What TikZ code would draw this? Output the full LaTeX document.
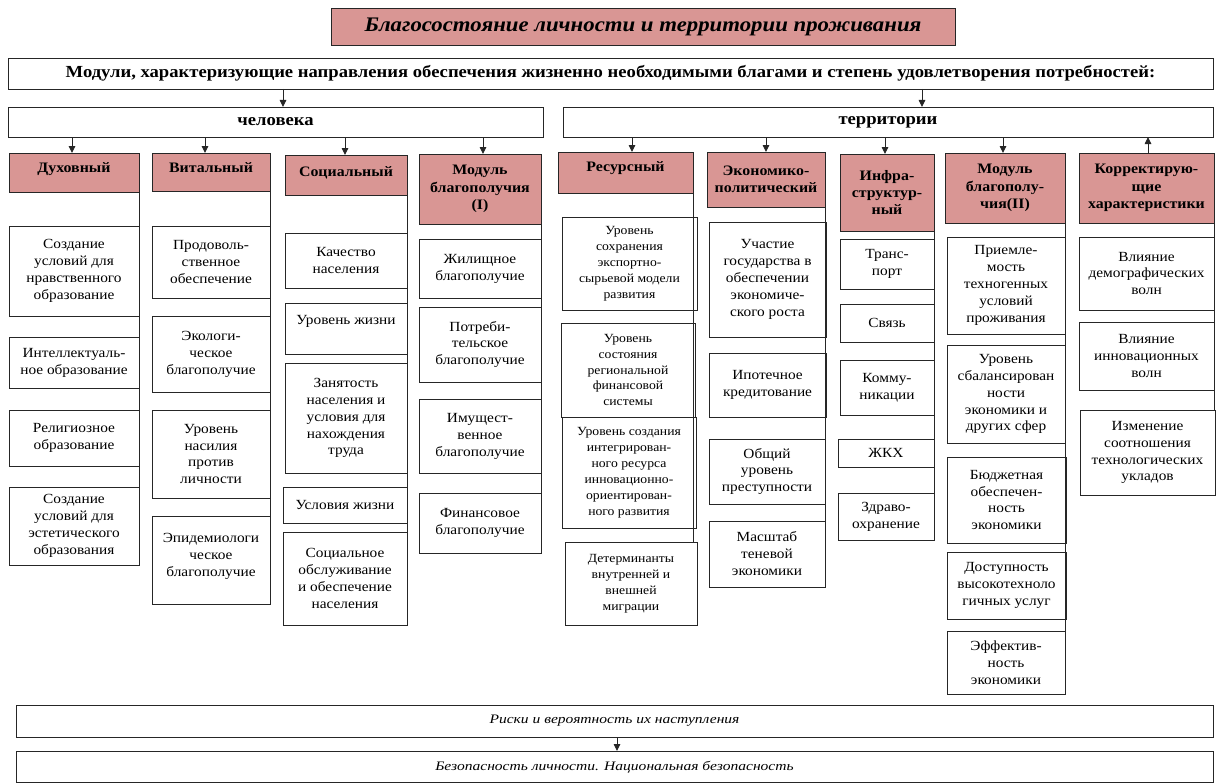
\documentclass[tikz,border=0pt]{standalone}
\usepackage{fontspec}
\setmainfont{Liberation Serif}[FakeStretch=1.1]
\newfontfamily\widefont{Liberation Serif}[FakeStretch=1.2]
\usetikzlibrary{arrows.meta}

\definecolor{rosefill}{HTML}{D99694}
\definecolor{edge}{HTML}{262626}

% box given by its corners (x1,y1)-(x2,y2), in pixel-like units
\newcommand\bx[7]{%
  \node[#6, minimum width={(#4-#2)*1bp}, minimum height={(#5-#3)*1bp}]
    (#1) at ({(#2+#4)/2},{(#3+#5)/2}) {#7};}

\tikzset{
  base/.style={draw=edge, line width=0.9bp, inner sep=0pt, outer sep=0pt, align=center},
  titlebox/.style={base, fill=rosefill, font=\fontsize{20.8}{25}\selectfont\bfseries\itshape},
  barbox/.style={base, fill=white, font=\fontsize{17}{20}\selectfont\bfseries},
  headbox/.style={base, fill=rosefill, font=\fontsize{14.5}{17.5}\selectfont\bfseries},
  itembox/.style={base, fill=white, font=\fontsize{14}{17}\selectfont},
  smallbox/.style={base, fill=white, font=\fontsize{12.5}{16}\selectfont},
  footbox/.style={base, fill=white, font=\widefont\fontsize{13}{15}\selectfont\itshape},
  arr/.style={draw=edge, line width=0.9bp, -{Triangle[length=7bp,width=6.5bp]}},
  rail/.style={draw=edge, line width=0.9bp}
}

\begin{document}
\begin{tikzpicture}[x=1bp, y=-1bp]
\useasboundingbox (0,0) rectangle (1217,783);
\fill[white] (0,0) rectangle (1217,783);

% title and top bars
\bx{title}{331}{8}{955}{45}{titlebox}{Благосостояние личности и территории проживания}
\bx{mods}{8}{58}{1213}{89}{barbox}{Модули, характеризующие направления обеспечения жизненно необходимыми благами и степень удовлетворения потребностей:}
\bx{pers}{8}{107}{543}{137}{barbox}{человека}
\bx{terr}{563}{107}{1213}{137}{barbox}{территории}

% module headers
\bx{h1}{9}{153}{139}{192}{headbox}{Духовный\\[-7.5bp]\mbox{}}
\bx{h2}{152}{153}{270}{191}{headbox}{Витальный\\[-7.5bp]\mbox{}}
\bx{h3}{285}{155}{407}{195}{headbox}{Социальный\\[-9.5bp]\mbox{}}
\bx{h4}{419}{154}{541}{224}{headbox}{Модуль\\благополучия\\(I)}
\bx{h5}{558}{152}{693}{193}{headbox}{Ресурсный\\[-5.5bp]\mbox{}}
\bx{h6}{707}{152}{825}{207}{headbox}{Экономико-\\политический}
\bx{h7}{840}{154}{934}{231}{headbox}{Инфра-\\структур-\\ный}
\bx{h8}{945}{153}{1065}{223}{headbox}{Модуль\\благополу-\\чия(II)}
\bx{h9}{1079}{153}{1214}{223}{headbox}{Корректирую-\\щие\\характеристики}

% Духовный
\bx{c11}{9}{226}{139}{316}{itembox}{Создание\\условий для\\нравственного\\образование}
\bx{c12}{9}{337}{139}{388}{itembox}{Интеллектуаль-\\ное образование}
\bx{c13}{9}{410}{139}{466}{itembox}{Религиозное\\образование}
\bx{c14}{9}{487}{139}{565}{itembox}{Создание\\условий для\\эстетического\\образования}

% Витальный
\bx{c21}{152}{226}{270}{298}{itembox}{Продоволь-\\ственное\\обеспечение}
\bx{c22}{152}{316}{270}{392}{itembox}{Экологи-\\ческое\\благополучие}
\bx{c23}{152}{410}{270}{498}{itembox}{Уровень\\насилия\\против\\личности}
\bx{c24}{152}{516}{270}{604}{itembox}{Эпидемиологи\\ческое\\благополучие\\[-6bp]\mbox{}}

% Социальный
\bx{c31}{285}{233}{407}{288}{itembox}{Качество\\населения}
\bx{c32}{285}{303}{407}{354}{itembox}{Уровень жизни\\\mbox{}}
\bx{c33}{285}{363}{407}{473}{itembox}{Занятость\\населения и\\условия для\\нахождения\\труда}
\bx{c34}{283}{487}{407}{523}{itembox}{Условия жизни}
\bx{c35}{283}{532}{407}{625}{itembox}{Социальное\\обслуживание\\и обеспечение\\населения}

% Модуль благополучия (I)
\bx{c41}{419}{239}{541}{298}{itembox}{Жилищное\\благополучие}
\bx{c42}{419}{307}{541}{382}{itembox}{Потреби-\\тельское\\благополучие}
\bx{c43}{419}{399}{541}{473}{itembox}{Имущест-\\венное\\благополучие}
\bx{c44}{419}{493}{541}{553}{itembox}{Финансовое\\благополучие}

% Ресурсный
\bx{c51}{562}{217}{697}{310}{smallbox}{Уровень\\сохранения\\экспортно-\\сырьевой модели\\развития}
\bx{c52}{561}{323}{695}{417}{smallbox}{Уровень\\состояния\\региональной\\финансовой\\системы}
\bx{c53}{562}{417}{696}{528}{smallbox}{Уровень создания\\интегрирован-\\ного ресурса\\инновационно-\\ориентирован-\\ного развития}
\bx{c54}{565}{542}{697}{625}{smallbox}{Детерминанты\\внутренней и\\внешней\\миграции}

% Экономико-политический
\bx{c61}{709}{222}{826}{337}{itembox}{Участие\\государства в\\обеспечении\\экономиче-\\ского роста}
\bx{c62}{709}{353}{826}{417}{itembox}{Ипотечное\\кредитование}
\bx{c63}{709}{439}{825}{504}{itembox}{Общий\\уровень\\преступности}
\bx{c64}{709}{521}{825}{587}{itembox}{Масштаб\\теневой\\экономики}

% Инфраструктурный
\bx{c71}{840}{239}{934}{289}{itembox}{Транс-\\порт}
\bx{c72}{840}{304}{934}{342}{itembox}{Связь}
\bx{c73}{840}{360}{934}{415}{itembox}{Комму-\\никации}
\bx{c74}{838}{439}{934}{467}{itembox}{ЖКХ}
\bx{c75}{838}{493}{934}{540}{itembox}{Здраво-\\охранение}

% Модуль благополучия (II)
\bx{c81}{947}{237}{1065}{334}{itembox}{Приемле-\\мость\\техногенных\\условий\\проживания}
\bx{c82}{947}{345}{1065}{443}{itembox}{Уровень\\сбалансирован\\ности\\экономики и\\других сфер}
\bx{c83}{947}{457}{1066}{543}{itembox}{Бюджетная\\обеспечен-\\ность\\экономики}
\bx{c84}{947}{552}{1066}{619}{itembox}{Доступность\\высокотехноло\\гичных услуг}
\bx{c85}{947}{631}{1065}{694}{itembox}{Эффектив-\\ность\\экономики}

% Корректирующие характеристики
\bx{c91}{1079}{237}{1214}{310}{itembox}{Влияние\\демографических\\волн}
\bx{c92}{1079}{322}{1214}{390}{itembox}{Влияние\\инновационных\\волн}
\bx{c93}{1080}{410}{1215}{495}{itembox}{Изменение\\соотношения\\технологических\\укладов}

% bottom bars
\bx{risk}{16}{705}{1213}{737}{footbox}{Риски и вероятность их наступления}
\bx{safe}{16}{751}{1213}{782.5}{footbox}{Безопасность личности. Национальная безопасность}

% arrows from the modules bar
\draw[arr] (mods.south -| 283,0) -- (pers.north -| 283,0);
\draw[arr] (mods.south -| 922,0) -- (terr.north -| 922,0);

% arrows to the module headers
\draw[arr] (pers.south -| 72,0) -- (h1.north -| 72,0);
\draw[arr] (pers.south -| 205,0) -- (h2.north -| 205,0);
\draw[arr] (pers.south -| 345,0) -- (h3.north -| 345,0);
\draw[arr] (pers.south -| 483,0) -- (h4.north -| 483,0);
\draw[arr] (terr.south -| 632,0) -- (h5.north -| 632,0);
\draw[arr] (terr.south -| 766,0) -- (h6.north -| 766,0);
\draw[arr] (terr.south -| 885,0) -- (h7.north -| 885,0);
\draw[arr] (terr.south -| 1003,0) -- (h8.north -| 1003,0);
\draw[arr] (h9.north -| 1148,0) -- (terr.south -| 1148,0);

% rails along the right side of each column
\draw[rail] (h1.south east) -- (h1.south east |- c14.north);
\draw[rail] (h2.south east) -- (h2.south east |- c24.north);
\draw[rail] (h3.south east) -- (h3.south east |- c35.north);
\draw[rail] (h4.south east) -- (h4.south east |- c44.north);
\draw[rail] (h5.south east) -- (h5.south east |- c54.north);
\draw[rail] (h6.south east) -- (h6.south east |- c64.north);
\draw[rail] (h7.south east) -- (h7.south east |- c75.north);
\draw[rail] (h8.south east) -- (h8.south east |- c85.north);
\draw[rail] (h9.south east) -- (h9.south east |- c93.north);

% arrow between the bottom bars
\draw[arr] (risk.south -| 617,0) -- (safe.north -| 617,0);
\end{tikzpicture}
\end{document}
